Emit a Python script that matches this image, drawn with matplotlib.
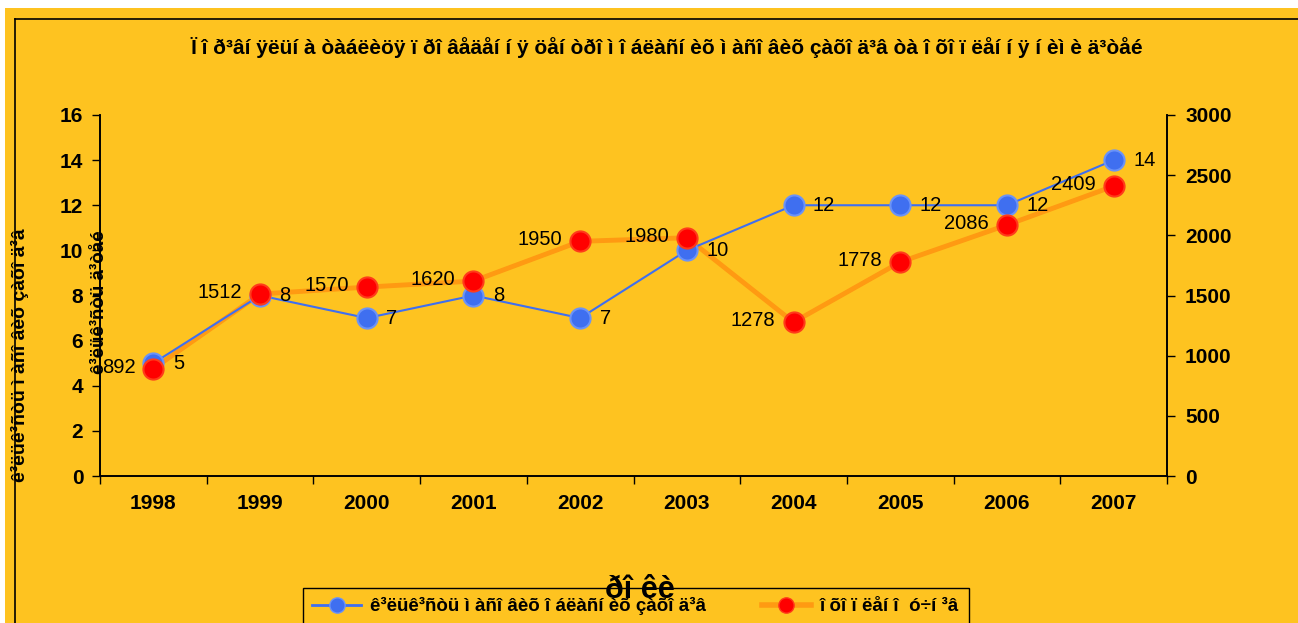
import matplotlib
import matplotlib.pyplot as plt
from matplotlib.lines import Line2D
from matplotlib.patches import Rectangle

matplotlib.use("Agg")

# --- data ---
YEARS = ["1998", "1999", "2000", "2001", "2002", "2003", "2004", "2005", "2006", "2007"]
EVENTS = [5, 8, 7, 8, 7, 10, 12, 12, 12, 14]
PUPILS = [892, 1512, 1570, 1620, 1950, 1980, 1278, 1778, 2086, 2409]

TITLE = ("Ï î ð³âí ÿëüí à òàáëèöÿ ï ðî âåäåí í ÿ öåí òðî ì î áëàñí èõ ì àñî âèõ "
         "çàõî ä³â òà î õî ï ëåí í ÿ í èì è ä³òåé")
YLABEL_OUTER = "ê³ëüê³ñòü ì àñî âèõ çàõî ä³â"
YLABEL_INNER = "ê³ëüê³ñòü ä³òåé"
XLABEL = "ðî êè"
LEG_EVENTS = "ê³ëüê³ñòü ì àñî âèõ î áëàñí èõ çàõî ä³â"
LEG_PUPILS = "î õî ï ëåí î  ó÷í ³â"

YELLOW_BG = "#fec320"
BLUE = "#3f6ff0"
BLUE_EDGE = "#6b93f7"
ORANGE = "#ff9a12"
RED = "#ff0000"
RED_EDGE = "#ff3b1a"

plt.rcParams["font.family"] = ["Liberation Sans", "DejaVu Sans"]

W, H = 1298, 623
fig = plt.figure(figsize=(W / 100, H / 100), dpi=100, facecolor="white")

# yellow chart area with its thin black frame
fig.patches.append(Rectangle((5 / W, 0), 1, 1 - 8 / H, transform=fig.transFigure,
                             facecolor=YELLOW_BG, edgecolor="none", zorder=-5))
fig.lines.append(Line2D([15 / W, 1], [1 - 19 / H] * 2, transform=fig.transFigure,
                        color="black", linewidth=1.2, zorder=-4))
fig.lines.append(Line2D([15 / W] * 2, [0, 1 - 19 / H], transform=fig.transFigure,
                        color="black", linewidth=1.2, zorder=-4))

ax = fig.add_axes([100 / W, 1 - 476 / H, (1167 - 100) / W, (476 - 115) / H])
ax.set_facecolor("none")
ax2 = ax.twinx()
ax2.patch.set_visible(False)

x = [i + 0.5 for i in range(len(YEARS))]

# orange line sits beneath everything on the secondary axis
ax2.plot(x, PUPILS, color=ORANGE, linewidth=3.5, zorder=1)
ax2.set_zorder(1)
ax.set_zorder(2)
ax.plot(x, EVENTS, color=BLUE, linewidth=1.5, zorder=2)
ax.plot(x, EVENTS, linestyle="none", marker="o", markersize=14.5,
        markerfacecolor=BLUE, markeredgecolor=BLUE_EDGE, markeredgewidth=1.5, zorder=3)
# red markers drawn on the front axes (converted to left-axis scale) so they cover the blue
ax.plot(x, [p * 16 / 3000 for p in PUPILS], linestyle="none", marker="o", markersize=14.5,
        markerfacecolor=RED, markeredgecolor=RED_EDGE, markeredgewidth=1.5, zorder=4)

for xi, v in zip(x, EVENTS):
    ax.annotate(str(v), xy=(xi, v), xytext=(14, 0), textcoords="offset points",
                ha="left", va="center", fontsize=14.5, zorder=5)
for xi, v in zip(x, PUPILS):
    ax.annotate(str(v), xy=(xi, v * 16 / 3000), xytext=(-13, 1), textcoords="offset points",
                ha="right", va="center", fontsize=14.5, zorder=5)

ax.set_xlim(0, len(YEARS))
ax.set_ylim(0, 16)
ax2.set_ylim(0, 3000)
ax.set_yticks(range(0, 17, 2))
ax2.set_yticks(range(0, 3001, 500))
ax.set_xticks(range(len(YEARS) + 1))
ax.set_xticklabels([])
ax.set_xticks(x, minor=True)
ax.set_xticklabels(YEARS, minor=True)
ax.tick_params(axis="x", which="major", length=6, direction="out", width=1)
ax.tick_params(axis="x", which="minor", length=0, pad=13)
ax.tick_params(axis="y", length=6, width=1, pad=6)
ax2.tick_params(axis="y", length=6, width=1, pad=7)
for lab in ax.get_xticklabels(minor=True) + ax.get_yticklabels() + ax2.get_yticklabels():
    lab.set_fontsize(15)
    lab.set_fontweight("bold")

for a in (ax, ax2):
    a.spines["top"].set_visible(False)
    for s in ("left", "right", "bottom"):
        a.spines[s].set_linewidth(1.2)

fig.text(667 / W, 1 - 48 / H, TITLE, ha="center", va="center", fontsize=15,
         fontweight="bold")
fig.text(20 / W, 1 - 355 / H, YLABEL_OUTER, rotation=90, ha="center", va="center",
         fontsize=14, fontweight="bold")
fig.text(100 / W, 1 - 302 / H, YLABEL_INNER, rotation=90, ha="center", va="center",
         fontsize=13.5, fontweight="bold", zorder=10)

handles = [
    Line2D([], [], color=BLUE, linewidth=2, marker="o", markersize=11,
           markerfacecolor=BLUE, markeredgecolor=BLUE_EDGE),
    Line2D([], [], color=ORANGE, linewidth=4, marker="o", markersize=11,
           markerfacecolor=RED, markeredgecolor=RED_EDGE),
]
leg = fig.legend(handles, [LEG_EVENTS, LEG_PUPILS], loc="upper left",
                 bbox_to_anchor=(303 / W, 1 - 588 / H), ncol=2, frameon=True,
                 fancybox=False, edgecolor="black", facecolor=YELLOW_BG, framealpha=1,
                 prop={"weight": "bold", "size": 13.5},
                 handlelength=2.6, handletextpad=0.5, columnspacing=2.95,
                 borderpad=0.5, borderaxespad=0)
leg.get_frame().set_linewidth(1.0)
leg.set_zorder(20)

fig.text(640 / W, 1 - 590 / H, XLABEL, ha="center", va="center", fontsize=22,
         fontweight="bold", zorder=30)

fig.savefig("out.png", dpi=100, facecolor=fig.get_facecolor())
